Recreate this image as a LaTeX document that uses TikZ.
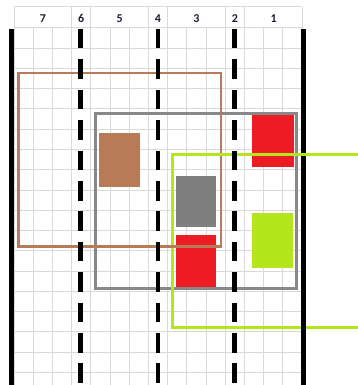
\documentclass[tikz,border=0pt]{standalone}
\usepackage{fontspec}
\setmainfont{Carlito}
\definecolor{gridgray}{RGB}{217,217,217}
\definecolor{hdrcol}{RGB}{28,28,48}
\definecolor{brownc}{RGB}{185,122,87}
\definecolor{grayo}{RGB}{136,136,136}
\definecolor{grayf}{RGB}{127,127,127}
\definecolor{redc}{RGB}{237,28,36}
\definecolor{limec}{RGB}{181,230,29}
\begin{document}
\begin{tikzpicture}[x=1pt,y=-1pt,
  gridline/.style={draw=gridgray,line width=1pt},
  lane/.style={line width=4.6pt,black,dash pattern=on 19.5pt off 10.9pt},
  edgeline/.style={line width=4.5pt,black},
  hdr/.style={font=\bfseries\fontsize{12}{14}\selectfont,text=hdrcol,inner sep=0pt,anchor=base},
  outl/.style={line width=2.7pt},
]
\useasboundingbox (0,0) rectangle (358,385);
% grid
\foreach \i in {0,...,15} \draw[gridline] ({14+19.2*\i},28) -- ({14+19.2*\i},385);
\foreach \k in {0,...,17} \draw[gridline] (14,{28+20.25*\k}) -- (302,{28+20.25*\k});
\draw[gridline] (14,7) -- (302,7);
\foreach \xx in {14,71.6,90.8,148.4,167.6,225.2,244.4,302} \draw[gridline] (\xx,7) -- (\xx,28);
% header labels
\node[hdr] (h7) at (42.8,23) {7};
\node[hdr] (h6) at (81.2,23) {6};
\node[hdr] (h5) at (119.6,23) {5};
\node[hdr] (h4) at (158,23) {4};
\node[hdr] (h3) at (196.4,23) {3};
\node[hdr] (h2) at (234.8,23) {2};
\node[hdr] (h1) at (273.6,23) {1};
% filled blocks
\fill[brownc] (99.3,132.7) rectangle (139.7,186.7);
\fill[grayf] (176,175.7) rectangle (215.7,226.7);
\fill[redc] (252,115) rectangle (294,167.3);
\fill[redc] (176,235.3) rectangle (215.7,287);
\fill[limec] (252,213.3) rectangle (293,268.3);
% outlines
\draw[outl,grayo,line width=3pt] (95,114) rectangle (296.3,288.3);
\draw[outl,brownc] (18.7,73) rectangle (221,246.3);
\draw[outl,limec] (358,154.7) -- (172.7,154.7) -- (172.7,327.3) -- (358,327.3);
\draw[outl,brownc] (165,246.3) -- (180,246.3);
% black edges and lanes
\draw[edgeline] (11.7,29) -- (11.7,385);
\draw[edgeline] (303.5,29) -- (303.5,385);
\foreach \xx in {80.7,157.8,234.7} \draw[lane] (\xx,29) -- (\xx,385);
\draw[outl,limec] (240,154.7) -- (358,154.7);
\end{tikzpicture}
\end{document}
